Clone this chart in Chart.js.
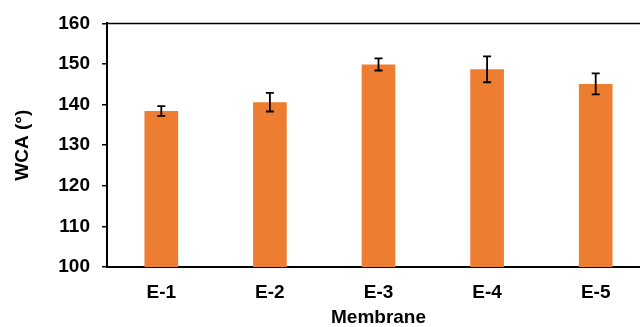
<!DOCTYPE html>
<html>
<head>
<meta charset="utf-8">
<script src="https://cdn.jsdelivr.net/npm/chart.js@4.4.1/dist/chart.umd.min.js"></script>
<style>
html,body{margin:0;padding:0;overflow:hidden;background:#fff;}
#wrap{width:640px;height:327px;overflow:hidden;}
</style>
</head>
<body>
<div id="wrap"><canvas id="c" width="650" height="327"></canvas></div>
<script>
const categories = ['E-1','E-2','E-3','E-4','E-5'];
const wcaValues = [138.4, 140.6, 149.9, 148.7, 145.1];
const wcaErrors = [1.2, 2.3, 1.5, 3.2, 2.6];
const yTicks = [100,110,120,130,140,150,160];

const errorBars = {
  id:'errorBars',
  afterDatasetsDraw(chart){
    const ctx = chart.ctx, y = chart.scales.y;
    const meta = chart.getDatasetMeta(0);
    ctx.save();
    ctx.strokeStyle = '#000';
    ctx.lineWidth = 1.8;
    meta.data.forEach((bar,i)=>{
      const x = bar.x;
      const yt = y.getPixelForValue(wcaValues[i]+wcaErrors[i]);
      const yb = y.getPixelForValue(wcaValues[i]-wcaErrors[i]);
      ctx.beginPath();
      ctx.moveTo(x,yt); ctx.lineTo(x,yb);
      ctx.moveTo(x-4,yt); ctx.lineTo(x+4,yt);
      ctx.moveTo(x-4,yb); ctx.lineTo(x+4,yb);
      ctx.stroke();
    });
    ctx.restore();
  }
};
const topBorder = {
  id:'topBorder',
  afterDraw(chart){
    const {ctx, chartArea:a} = chart;
    ctx.save();
    ctx.strokeStyle = '#000';
    ctx.lineWidth = 1.5;
    ctx.beginPath();
    ctx.moveTo(a.left, a.top); ctx.lineTo(a.right, a.top);
    ctx.stroke();
    ctx.restore();
  }
};

new Chart(document.getElementById('c'), {
  type:'bar',
  data:{
    labels:categories,
    datasets:[{data:wcaValues, backgroundColor:'#ED7D31', barPercentage:0.31, categoryPercentage:1}]
  },
  options:{
    responsive:false,
    animation:false,
    events:[],
    layout:{padding:{top:22,left:0,right:0,bottom:0}},
    plugins:{legend:{display:false}, tooltip:{enabled:false}},
    scales:{
      x:{
        grid:{display:false, drawTicks:false},
        border:{color:'#000', width:2},
        ticks:{color:'#000', font:{family:'Liberation Sans, Arial', size:19, weight:'bold'}, padding:14},
        title:{display:true, text:'Membrane', color:'#000', font:{family:'Liberation Sans, Arial', size:19, weight:'bold', lineHeight:1}, padding:{top:0,bottom:0}},
        afterFit(s){ s.height = 60; }
      },
      y:{
        min:100, max:160,
        afterBuildTicks(s){ s.ticks = yTicks.map(v=>({value:v})); },
        grid:{drawOnChartArea:false, drawTicks:true, tickLength:5, color:'#000', lineWidth:1.5},
        border:{color:'#000', width:2},
        ticks:{color:'#000', font:{family:'Liberation Sans, Arial', size:19, weight:'bold'}, padding:12},
        title:{display:true, text:'WCA (°)', color:'#000', font:{family:'Liberation Sans, Arial', size:19, weight:'bold', lineHeight:1}, padding:{top:13,bottom:0}},
        afterFit(s){ s.width = 107; }
      }
    }
  },
  plugins:[errorBars, topBorder]
});
</script>
</body>
</html>
